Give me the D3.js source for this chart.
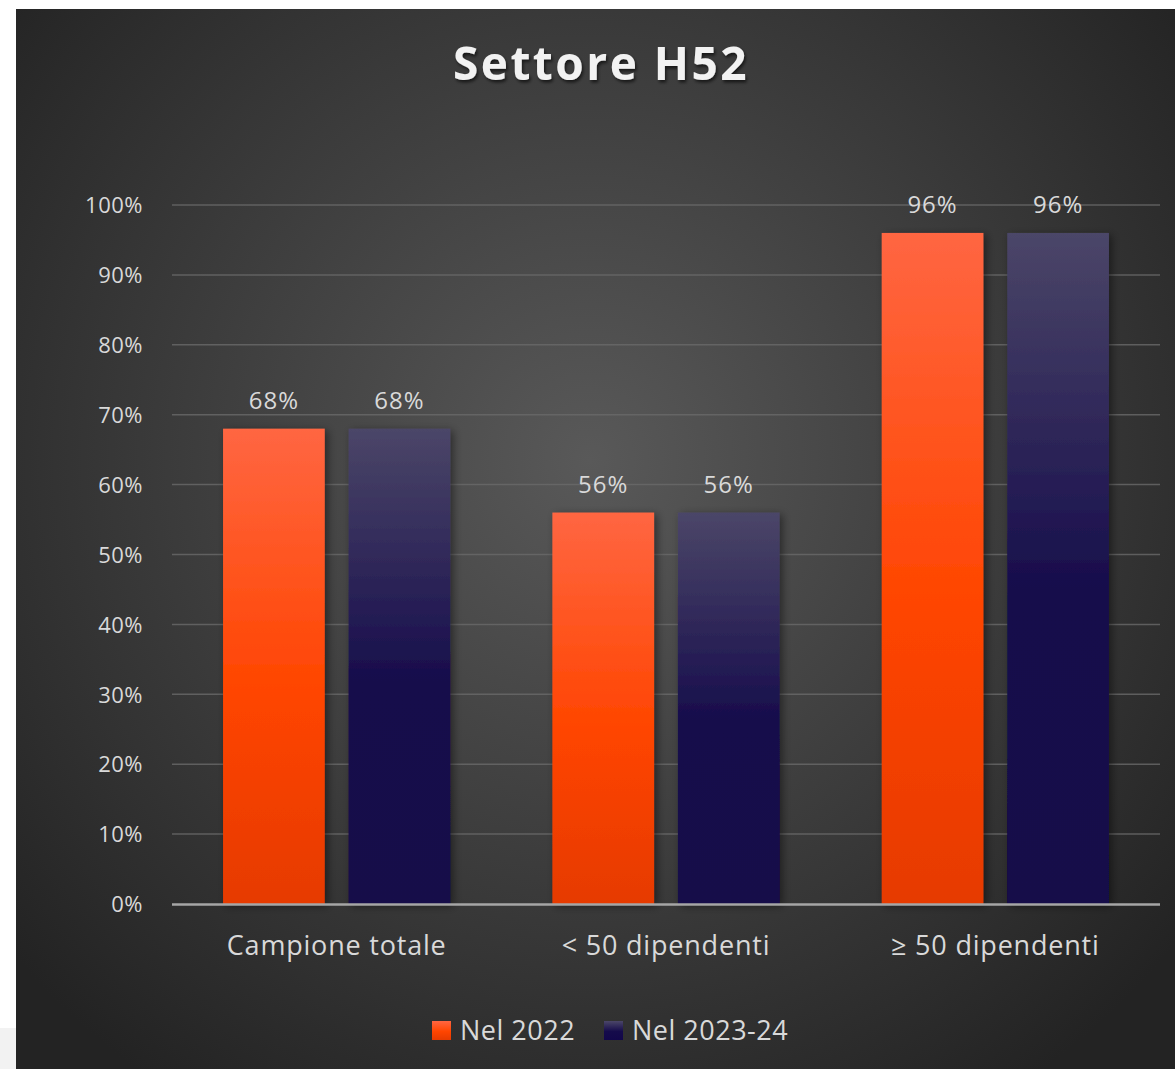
<!DOCTYPE html>
<html><head><meta charset="utf-8">
<script src="https://cdn.jsdelivr.net/npm/d3@7"></script>
<style>
html,body{margin:0;padding:0;background:#fff;}
svg{display:block;}
</style></head>
<body>
<svg id="chart" width="1175" height="1069"></svg>
<script>
const categories = ["Campione totale", "< 50 dipendenti", "≥ 50 dipendenti"];
const seriesNames = ["Nel 2022", "Nel 2023-24"];
const values2022 = [68, 56, 96];
const values2023 = [68, 56, 96];
const yTicks = [0,10,20,30,40,50,60,70,80,90,100];

const svg = d3.select("#chart");
const W = 1175, H = 1069;
const font = "'Open Sans', 'DejaVu Sans', sans-serif";

const defs = svg.append("defs");
const bg = defs.append("radialGradient").attr("id","bg")
  .attr("gradientUnits","userSpaceOnUse").attr("cx",590).attr("cy",460).attr("r",760);
bg.append("stop").attr("offset","0").attr("stop-color","#595959");
bg.append("stop").attr("offset","1").attr("stop-color","#232323");

const gO = defs.append("linearGradient").attr("id","gO").attr("x1",0).attr("y1",0).attr("x2",0).attr("y2",1);
gO.append("stop").attr("offset","0").attr("stop-color","#ff6642");
gO.append("stop").attr("offset","0.55").attr("stop-color","#ff4500");
gO.append("stop").attr("offset","1").attr("stop-color","#e63a00");
const gN = defs.append("linearGradient").attr("id","gN").attr("x1",0).attr("y1",0).attr("x2",0).attr("y2",1);
gN.append("stop").attr("offset","0").attr("stop-color","#4b4668");
gN.append("stop").attr("offset","0.55").attr("stop-color","#150b4b");
gN.append("stop").attr("offset","1").attr("stop-color","#12074a");

const sh = defs.append("filter").attr("id","sh").attr("x","-20%").attr("y","-20%").attr("width","150%").attr("height","150%");
sh.append("feDropShadow").attr("dx",3).attr("dy",2).attr("stdDeviation",4).attr("flood-color","#000").attr("flood-opacity",0.45);
const tsh = defs.append("filter").attr("id","tsh").attr("x","-10%").attr("y","-20%").attr("width","120%").attr("height","150%");
tsh.append("feDropShadow").attr("dx",1.5).attr("dy",2.5).attr("stdDeviation",1.5).attr("flood-color","#000").attr("flood-opacity",0.6);

// outer fragments
svg.append("rect").attr("x",0).attr("y",1028).attr("width",16).attr("height",H-1028).attr("fill","#f2f2f2");
svg.append("rect").attr("x",16).attr("y",9).attr("width",W-16).attr("height",H-9).attr("fill","url(#bg)");

// title
svg.append("text").attr("x",601).attr("y",80).attr("text-anchor","middle")
  .attr("font-family",font).attr("font-weight","bold").attr("font-size",46)
  .attr("letter-spacing",2.5).attr("fill","#f2f2f2").attr("filter","url(#tsh)").text("Settore H52");

const x0 = 172, x1 = 1160, yTop = 205, yBot = 904;
const y = d3.scaleLinear().domain([0,100]).range([yBot, yTop]);
const x = d3.scaleBand().domain(categories).range([x0, x1]).paddingInner(0.31).paddingOuter(0.155);
const xs = d3.scaleBand().domain(seriesNames).range([0, x.bandwidth()]).paddingInner(0.19);

// gridlines
svg.append("g").selectAll("line").data(yTicks.filter(d=>d>0)).join("line")
  .attr("x1",x0).attr("x2",x1).attr("y1",d=>y(d)).attr("y2",d=>y(d))
  .attr("stroke","#6a6a6a").attr("stroke-width",1.5).attr("opacity",0.8);

// y axis labels
const yAxis = d3.axisLeft(y).tickValues(yTicks).tickFormat(d=>d+"%").tickSize(0).tickPadding(0);
const ya = svg.append("g").attr("transform","translate(143,0)").call(yAxis);
ya.select(".domain").remove();
ya.selectAll("text").attr("font-family",font).attr("font-size",22).attr("letter-spacing",0.5).attr("fill","#d9d9d9").attr("dy","0.35em");

// bars
const data = categories.map((c,i)=>({c, vals:[{s:seriesNames[0],v:values2022[i]},{s:seriesNames[1],v:values2023[i]}]}));
const fills = {"Nel 2022":"url(#gO)","Nel 2023-24":"url(#gN)"};
const grp = svg.append("g").selectAll("g").data(data).join("g").attr("transform",d=>`translate(${x(d.c)},0)`);
grp.selectAll("rect").data(d=>d.vals).join("rect")
  .attr("x",d=>xs(d.s)).attr("width",xs.bandwidth())
  .attr("y",d=>y(d.v)).attr("height",d=>yBot-y(d.v))
  .attr("fill",d=>fills[d.s]).attr("filter","url(#sh)");
grp.selectAll("text").data(d=>d.vals).join("text")
  .attr("x",d=>xs(d.s)+xs.bandwidth()/2).attr("y",d=>y(d.v)-20)
  .attr("text-anchor","middle").attr("font-family",font).attr("font-size",24).attr("letter-spacing",1).attr("fill","#d9d9d9")
  .text(d=>d.v+"%");

// x axis baseline
svg.append("line").attr("x1",x0).attr("x2",x1).attr("y1",yBot+0.5).attr("y2",yBot+0.5)
  .attr("stroke","#a6a6a6").attr("stroke-width",2.5);

// x labels
const xAxis = d3.axisBottom(x).tickSize(0).tickPadding(0);
const xa = svg.append("g").attr("transform",`translate(0,${yBot+42})`).call(xAxis);
xa.select(".domain").remove();
xa.selectAll("text").attr("font-family",font).attr("font-size",27).attr("letter-spacing",0.8).attr("fill","#d9d9d9").attr("dy","0.35em");

// legend
const legendX = [432, 604];
const lg = svg.append("g").selectAll("g").data(seriesNames).join("g").attr("transform",(d,i)=>`translate(${legendX[i]},1021)`);
lg.append("rect").attr("width",19).attr("height",19).attr("fill",(d,i)=>i===0?"url(#gO)":"url(#gN)");
lg.append("text").attr("x",28).attr("y",10).attr("dy","0.35em").attr("font-family",font).attr("font-size",27).attr("letter-spacing",0.5).attr("fill","#d9d9d9").text(d=>d);
</script>
</body></html>
